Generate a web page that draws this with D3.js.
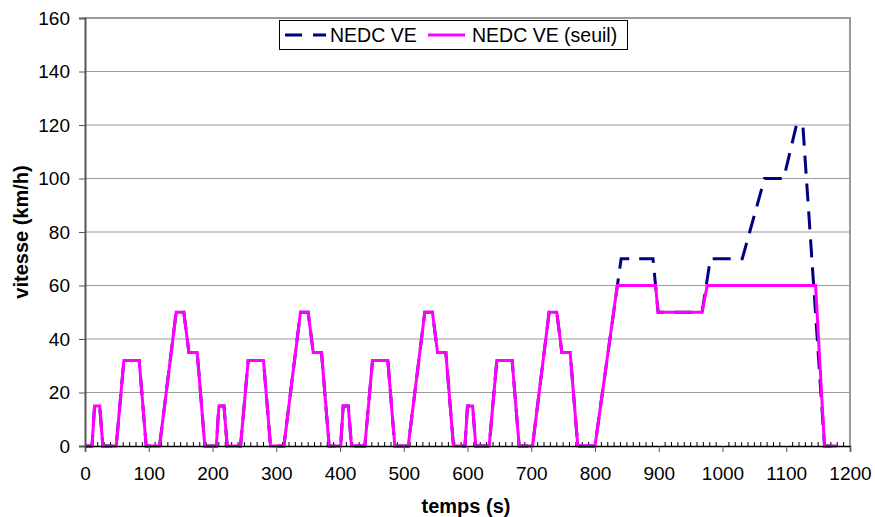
<!DOCTYPE html>
<html>
<head>
<meta charset="utf-8">
<script src="https://cdn.jsdelivr.net/npm/d3@7"></script>
<style>
  html, body { margin: 0; padding: 0; background: #fff; }
  svg { display: block; font-family: "Liberation Sans", Arial, sans-serif; }
</style>
</head>
<body>
<svg id="chart" width="875" height="517"></svg>
<script>
// ECE-15 urban cycle vertices (time s, speed km/h), repeated 4 times
const eceTimes  = [0, 11, 15, 23, 28, 49, 61, 85, 96, 117, 143, 155, 163, 176, 188];
const eceSpeeds = [0, 0, 15, 15, 0, 0, 32, 32, 0, 0, 50, 50, 35, 35, 0];
const eceOffsets = [0, 195, 390, 585];
// EUDC extra-urban cycle vertices
const eudcTimes  = [800, 841, 891, 899, 968, 981, 1031, 1066, 1096, 1116, 1126, 1160, 1180];
const eudcSpeeds = [0, 70, 70, 50, 50, 70, 70, 100, 100, 120, 120, 0, 0];
// Threshold (seuil) profile vertices for the EUDC part
const seuilTimes  = [800, 835, 895, 899, 968, 976, 1146, 1160, 1180];
const seuilSpeeds = [0, 60, 60, 50, 50, 60, 60, 0, 0];

const seriesNames = ["NEDC VE", "NEDC VE (seuil)"];
const xTicks = [0, 100, 200, 300, 400, 500, 600, 700, 800, 900, 1000, 1100, 1200];
const yTicks = [0, 20, 40, 60, 80, 100, 120, 140, 160];

// Build series
const urban = [];
eceOffsets.forEach(o => eceTimes.forEach((t, i) => urban.push([t + o, eceSpeeds[i]])));
const ve = urban.concat(eudcTimes.map((t, i) => [t, eudcSpeeds[i]]));
const seuil = urban.concat(seuilTimes.map((t, i) => [t, seuilSpeeds[i]]));

const FONT = "'Liberation Sans', Arial, sans-serif";
const svg = d3.select("#chart");
const L = 85, R = 850, T = 18, B = 446;
const x = d3.scaleLinear().domain([0, 1200]).range([L, R]);
const y = d3.scaleLinear().domain([0, 160]).range([B, T]);

// gridlines
svg.append("g").selectAll("line").data(yTicks.filter(v => v > 0)).join("line")
  .attr("x1", L).attr("x2", R).attr("y1", d => y(d)).attr("y2", d => y(d))
  .attr("stroke", "#9a9a9a").attr("stroke-width", d => d === 160 ? 2 : 1);
// right border
svg.append("line").attr("x1", R).attr("x2", R).attr("y1", T - 1).attr("y2", B)
  .attr("stroke", "#9a9a9a").attr("stroke-width", 2);

// Y axis
const yAxis = d3.axisLeft(y).tickValues(yTicks).tickSize(6).tickPadding(9).tickFormat(d3.format("d"));
const gy = svg.append("g").attr("transform", `translate(${L},0)`).call(yAxis);
gy.attr("font-size", null).attr("font-family", null);
gy.select(".domain").attr("stroke", "#555").attr("stroke-width", 2);
gy.selectAll(".tick line").attr("stroke", "#555");
gy.selectAll("text").style("font-size", "19px").attr("fill", "#000").style("font-family", FONT);

// X axis minor ticks (inside, upward)
const minor = d3.range(0, 1201, 10).filter(v => v % 100 !== 0);
svg.append("g").selectAll("line").data(minor).join("line")
  .attr("x1", d => x(d)).attr("x2", d => x(d)).attr("y1", B).attr("y2", B - 4)
  .attr("stroke", "#000").attr("stroke-width", 1);

// lines
const line = d3.line().x(d => x(d[0])).y(d => y(d[1]));
svg.append("path").datum(ve).attr("d", line).attr("fill", "none")
  .attr("stroke", "#000080").attr("stroke-width", 3).attr("stroke-dasharray", "18,10");
svg.append("path").datum(seuil).attr("d", line).attr("fill", "none")
  .attr("stroke", "#ff00ff").attr("stroke-width", 3).attr("stroke-linejoin", "miter");

// X axis
const xAxis = d3.axisBottom(x).tickValues(xTicks).tickSize(6).tickPadding(15).tickFormat(d3.format("d"));
const gx = svg.append("g").attr("transform", `translate(0,${B})`).call(xAxis);
gx.attr("font-size", null).attr("font-family", null);
gx.select(".domain").attr("stroke", "#000").attr("stroke-width", 1.5);
gx.selectAll(".tick line").attr("stroke", "#555");
gx.selectAll("text").style("font-size", "19px").attr("fill", "#000").style("font-family", FONT);

// Axis titles
svg.append("text").attr("x", 466).attr("y", 513).attr("text-anchor", "middle")
  .style("font-size", "20px").style("font-family", FONT).attr("font-weight", "bold").text("temps (s)");
svg.append("text").attr("transform", "translate(28,232) rotate(-90)").attr("text-anchor", "middle")
  .style("font-size", "20px").style("font-family", FONT).attr("font-weight", "bold").text("vitesse (km/h)");

// Legend
const lg = svg.append("g");
lg.append("rect").attr("x", 279.5).attr("y", 20.5).attr("width", 348).attr("height", 29)
  .attr("fill", "#fff").attr("stroke", "#000").attr("stroke-width", 1);
lg.append("line").attr("x1", 285).attr("x2", 326).attr("y1", 35).attr("y2", 35)
  .attr("stroke", "#000080").attr("stroke-width", 3).attr("stroke-dasharray", "17,11");
lg.append("text").attr("x", 330).attr("y", 42).style("font-size", "19.5px").style("font-family", FONT).text(seriesNames[0]);
lg.append("line").attr("x1", 428).attr("x2", 465).attr("y1", 35).attr("y2", 35)
  .attr("stroke", "#ff00ff").attr("stroke-width", 3);
lg.append("text").attr("x", 472).attr("y", 42).style("font-size", "19.5px").style("font-family", FONT).text(seriesNames[1]);
</script>
</body>
</html>
